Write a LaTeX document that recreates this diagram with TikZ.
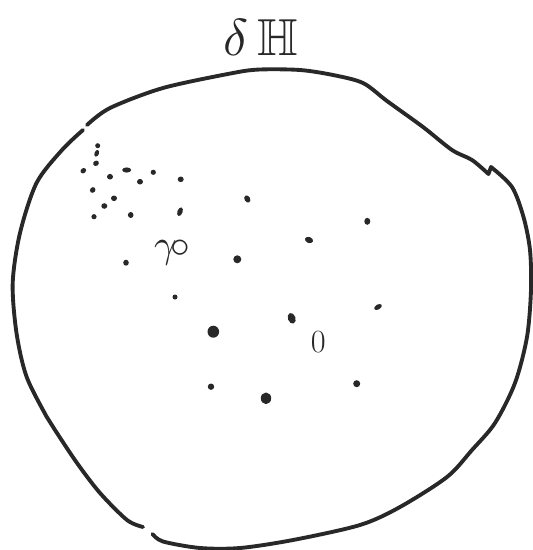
\documentclass[tikz,border=0pt]{standalone}
\usepackage{amsmath}
\usepackage{amssymb}
\usepackage{graphicx}
\usepackage{tikz}
\usetikzlibrary{positioning, calc}
\definecolor{tinta}{RGB}{40,40,40}

\begin{document}
\begin{tikzpicture}[x=0.05cm, y=-0.05cm,
    borda/.style={tinta, line width=5.5pt, line cap=round, line join=round},
    rotulo/.style={text=tinta, inner sep=0pt}]
    \useasboundingbox (0,0) rectangle (532,550);
    % contorno desenhado a mao, com duas falhas
    \draw[borda] plot[smooth] coordinates {(87,125) (110,108) (163,88) (233,73) (260,69.5) (300,70)
        (333,75) (363,83) (387,101) (423,127) (452,150) (472,160) (488.5,174)}
        -- plot[smooth] coordinates {(491,167) (512,187) (523.5,217) (530,250) (531,290) (527,337)
        (515,383) (495,423) (472,450) (447,477) (400,507) (360,525) (293,540) (240,548)
        (200,548) (163,541.5) (152.5,534)};
    \draw[borda] plot[smooth] coordinates {(143,527) (127,520) (100,493) (77,463) (55,430)
        (46.5,416.5) (26.5,376.5) (16.5,333) (12.7,283) (20,233) (36.5,183) (62,150) (83,130)};
    \node[rotulo, anchor=base] (bordo) at (261,55) {\scalebox{7.4}{$\delta\,\mathbb{H}$}};
    % pontos
    \foreach \x/\y/\a/\b/\r in {97.7/145.7/2.5/2.5/0, 96.7/153.3/2.2/3.5/-20, 96/163.3/3/2.6/30,
        83.3/170.7/3/2.5/40, 126.7/170/4.5/2.6/0, 110/176.7/3/2.8/0, 153.3/172.3/2.6/2.6/0,
        140/181.7/3/2.8/0, 180.7/179.3/3/2.8/0, 92.7/190/3/2.6/50, 114/198.3/3/2.8/0,
        104.3/206/3/2.8/0, 94/216.7/2.6/2.6/0, 130.7/215/2.8/3/0, 180/211.7/2.6/4.5/-20,
        126/262.7/2.8/3/0, 175/297/2.5/2.5/0, 247.3/199/2.8/3.8/30, 367.3/221.3/3/3.5/0,
        309/240/4.2/3/-20, 237.3/259.3/4/4/0, 378/307/4.2/2.5/30, 291.7/318.3/3.8/5.5/20,
        213.3/331.7/5.8/6/0, 211/386.7/3.2/3.2/0, 356.7/383.7/3.5/3.5/0, 266/398.3/5.2/5.8/0}
        \fill[tinta, rotate around={\r:(\x,\y)}] (\x,\y) ellipse [x radius=\a, y radius=\b];
    \node[rotulo, anchor=base] (gama) at (172,257) {\scalebox{5.6}{$\gamma\!\circ$}};
    \node[rotulo, font=\fontsize{46}{46}\selectfont] (zero) at (318.3,342.3) {0};
\end{tikzpicture}
\end{document}
